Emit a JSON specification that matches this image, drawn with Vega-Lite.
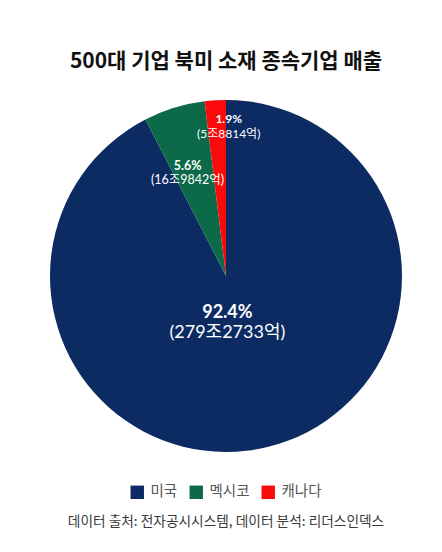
{
  "$schema": "https://vega.github.io/schema/vega-lite/v6.json",
  "background": "white",
  "padding": {"left": 10, "top": 51, "right": 0, "bottom": 5},
  "title": {
    "text": "데이터 출처: 전자공시시스템, 데이터 분석: 리더스인덱스",
    "orient": "bottom",
    "anchor": "middle",
    "font": "Noto Sans CJK KR",
    "fontSize": 13.7,
    "fontWeight": "normal",
    "color": "#3a3a3a",
    "offset": 16
  },
  "data": {
    "values": [
      {"국가": "미국", "억원": 2792733, "비율": "92.4%", "금액": "(279조2733억)"},
      {"국가": "멕시코", "억원": 169842, "비율": "5.6%", "금액": "(16조9842억)"},
      {"국가": "캐나다", "억원": 58814, "비율": "1.9%", "금액": "(5조8814억)"}
    ]
  },
  "vconcat": [
    {
      "title": {
        "text": "500대 기업 북미 소재 종속기업 매출",
        "anchor": "middle",
        "font": "Noto Sans CJK KR",
        "fontSize": 21,
        "fontWeight": "bold",
        "color": "#111111",
        "offset": 28
      },
      "width": 432,
      "height": 352,
      "encoding": {
        "theta": {"field": "억원", "type": "quantitative", "stack": true},
        "order": {"field": "억원", "sort": "descending"}
      },
      "layer": [
        {
          "mark": {"type": "arc"},
          "encoding": {
            "color": {
              "field": "국가",
              "type": "nominal",
              "scale": {
                "domain": ["미국", "멕시코", "캐나다"],
                "range": ["#0c2b62", "#0d6a48", "#fa0a0a"]
              },
              "legend": {
                "orient": "bottom",
                "direction": "horizontal",
                "title": null,
                "labelFont": "Noto Sans CJK KR",
                "labelFontSize": 14.5,
                "labelColor": "#555555",
                "symbolType": "square",
                "symbolSize": 180,
                "symbolStrokeWidth": 0,
                "symbolOpacity": 1,
                "columnPadding": 11,
                "labelOffset": 6,
                "offset": 33,
                "padding": 0
              }
            }
          }
        },
        {
          "mark": {"type": "text", "radius": 44, "dx": -9, "dy": -6, "fontSize": 18, "fontWeight": "bold", "color": "white", "font": "Lato, Noto Sans CJK KR"},
          "encoding": {
            "detail": {"field": "국가"},
            "text": {"condition": {"test": "datum['국가'] === '미국'", "field": "비율"}, "value": ""}
          }
        },
        {
          "mark": {"type": "text", "radius": 44, "dx": -9, "dy": 14, "fontSize": 18, "color": "white", "font": "Lato, Noto Sans CJK KR"},
          "encoding": {
            "detail": {"field": "국가"},
            "text": {"condition": {"test": "datum['국가'] === '미국'", "field": "금액"}, "value": ""}
          }
        },
        {
          "mark": {"type": "text", "radius": 110, "dx": -6, "dy": -5, "fontSize": 12.5, "fontWeight": "bold", "color": "white", "font": "Lato, Noto Sans CJK KR"},
          "encoding": {
            "detail": {"field": "국가"},
            "text": {"condition": {"test": "datum['국가'] === '멕시코'", "field": "비율"}, "value": ""}
          }
        },
        {
          "mark": {"type": "text", "radius": 110, "dx": -6, "dy": 9, "fontSize": 12.5, "color": "white", "font": "Lato, Noto Sans CJK KR"},
          "encoding": {
            "detail": {"field": "국가"},
            "text": {"condition": {"test": "datum['국가'] === '멕시코'", "field": "금액"}, "value": ""}
          }
        },
        {
          "mark": {"type": "text", "radius": 152, "dx": 12, "dy": -5, "fontSize": 12, "fontWeight": "bold", "color": "white", "font": "Lato, Noto Sans CJK KR"},
          "encoding": {
            "detail": {"field": "국가"},
            "text": {"condition": {"test": "datum['국가'] === '캐나다'", "field": "비율"}, "value": ""}
          }
        },
        {
          "mark": {"type": "text", "radius": 152, "dx": 12, "dy": 10, "fontSize": 12, "color": "white", "font": "Lato, Noto Sans CJK KR"},
          "encoding": {
            "detail": {"field": "국가"},
            "text": {"condition": {"test": "datum['국가'] === '캐나다'", "field": "금액"}, "value": ""}
          }
        }
      ]
    }
  ],
  "config": {
    "view": {"stroke": null},
    "legend": {"layout": {"bottom": {"anchor": "middle"}}}
  }
}
